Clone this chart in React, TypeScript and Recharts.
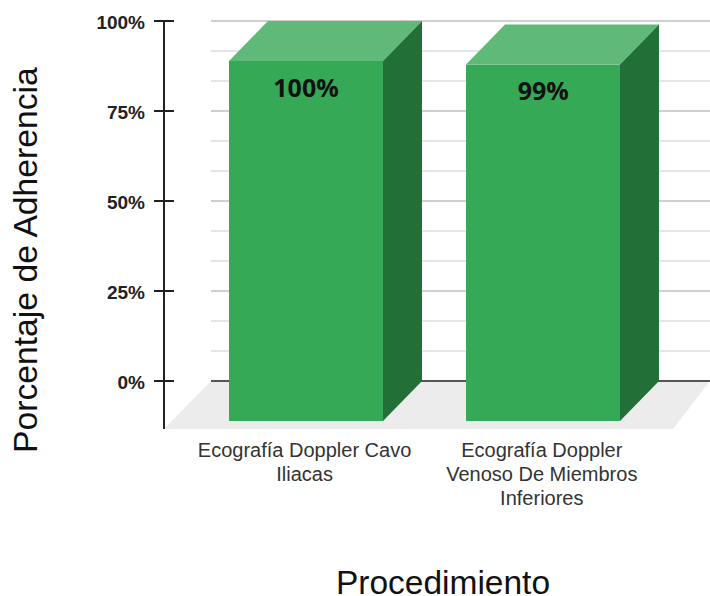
import { BarChart, Bar, XAxis, YAxis, CartesianGrid, ReferenceLine, LabelList } from "recharts";

const categories = ["Ecografía Doppler Cavo Iliacas", "Ecografía Doppler Venoso De Miembros Inferiores"];
const categoryLines = [
  ["Ecografía Doppler Cavo", "Iliacas"],
  ["Ecografía Doppler", "Venoso De Miembros", "Inferiores"],
];
const adherence = [100, 99];
const yTicks = [0, 25, 50, 75, 100];
const minorGrid = [8.33, 16.67, 33.33, 41.67, 58.33, 66.67, 83.33, 91.67];
const majorGrid = [25, 50, 75, 100];

const data = categories.map((category, i) => ({ category, adherence: adherence[i] }));

const FONT = "'Liberation Sans', Arial, sans-serif";
const DEPTH_X = 39;
const DEPTH_Y = 40;

// front face sits forward of the value plane, so the top edge at the back reads the value
function Box3D({ x, y, width, height }: any) {
  const fx = Math.round(x);
  const right = Math.round(x + width);
  const fy = y + DEPTH_Y;
  const bottom = y + height + DEPTH_Y;
  return (
    <g>
      <polygon
        points={`${fx},${fy} ${right},${fy} ${right + DEPTH_X},${y} ${fx + DEPTH_X},${y}`}
        fill="#5fba7a"
      />
      <polygon
        points={`${right},${fy} ${right + DEPTH_X},${y} ${right + DEPTH_X},${y + height} ${right},${bottom}`}
        fill="#226f38"
      />
      <rect x={fx} y={fy} width={right - fx} height={height} fill="#35a956" />
    </g>
  );
}

function YTick({ x, y, payload }: any) {
  const axisX = x + 19;
  return (
    <g>
      <line x1={axisX - 10} x2={axisX + 10} y1={y} y2={y} stroke="#222" strokeWidth={2} />
      {payload.value === 0 && <line x1={axisX} x2={axisX} y1={y} y2={y + 48} stroke="#222" strokeWidth={2} />}
      <text x={x} y={y + 8} textAnchor="end" fontFamily={FONT} fontWeight="bold" fontSize={19} fill="#222">
        {payload.value}%
      </text>
    </g>
  );
}

function XTick({ x, y, index }: any) {
  return (
    <text textAnchor="middle" fontFamily={FONT} fontSize={20} fill="#333">
      {categoryLines[index].map((line, i) => (
        <tspan key={i} x={x - 1} y={y + 68 + i * 24}>
          {line}
        </tspan>
      ))}
    </text>
  );
}

// floor plane under the bars plus the dark zero line along the back wall
function Floor({ y1, x2 }: any) {
  return (
    <g>
      <polygon points={`164,${y1 + 48} 211,${y1} ${x2},${y1} 673,${y1 + 48}`} fill="#ececec" />
      <line x1={211} x2={x2} y1={y1} y2={y1} stroke="#555" strokeWidth={2} />
    </g>
  );
}

export default function App() {
  return (
    <div style={{ position: "absolute", left: 0, top: 0 }}>
      <BarChart
        width={710}
        height={596}
        data={data}
        margin={{ top: 21, right: 0, bottom: 0, left: 0 }}
      >
        <CartesianGrid x={211} width={499} vertical={false} horizontalValues={minorGrid} stroke="#e6e6e6" strokeWidth={2} />
        <CartesianGrid x={211} width={499} vertical={false} horizontalValues={majorGrid} stroke="#cfcfcf" strokeWidth={2} />
        <ReferenceLine y={0} shape={Floor} zIndex={-50} />
        <XAxis
          dataKey="category"
          height={215}
          padding={{ left: 23, right: 48.6 }}
          axisLine={false}
          tickLine={false}
          interval={0}
          tick={XTick}
          label={{
            value: "Procedimiento",
            position: "insideBottom",
            offset: 2,
            dx: 6,
            fontFamily: FONT,
            fontSize: 33.5,
            fill: "#111",
          }}
        />
        <YAxis
          width={164}
          domain={[0, 100]}
          ticks={yTicks}
          tickSize={0}
          tickMargin={19}
          axisLine={{ stroke: "#222", strokeWidth: 2 }}
          tick={YTick}
          label={{
            value: "Porcentaje de Adherencia",
            angle: -90,
            position: "insideLeft",
            offset: 0,
            dx: 25,
            dy: 252,
            fontFamily: FONT,
            fontSize: 33.7,
            fill: "#111",
          }}
        />
        <Bar dataKey="adherence" barSize={154} shape={Box3D} isAnimationActive={false}>
          <LabelList
            dataKey="adherence"
            position="insideTop"
            offset={58}
            formatter={(v: any) => `${v}%`}
            fontFamily="'Open Sans', sans-serif"
            fontWeight="bold"
            fontSize={25}
            fill="#111"
          />
        </Bar>
      </BarChart>
    </div>
  );
}
